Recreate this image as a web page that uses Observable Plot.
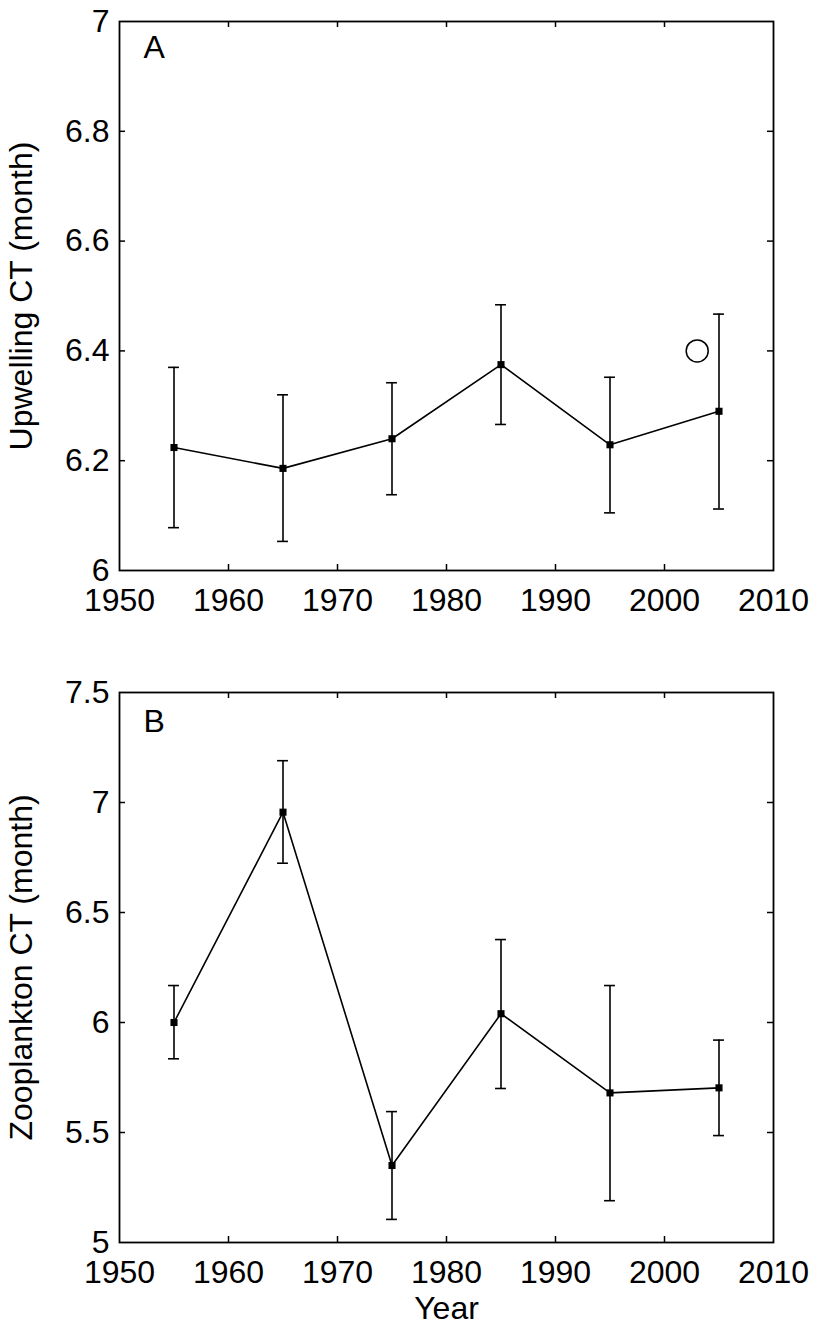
<!DOCTYPE html>
<html><head><meta charset="utf-8">
<script src="https://cdn.jsdelivr.net/npm/d3@7"></script>
<script src="https://cdn.jsdelivr.net/npm/@observablehq/plot@0.6"></script>
<style>body{margin:0;background:#fff} #chart svg{display:block}</style>
</head><body><div id="chart"></div>
<script>
// ---- data ----
const years = [1955, 1965, 1975, 1985, 1995, 2005];
const upwellingMean = [6.224, 6.186, 6.240, 6.375, 6.229, 6.290];
const upwellingLow  = [6.078, 6.053, 6.138, 6.266, 6.105, 6.112];
const upwellingHigh = [6.370, 6.320, 6.342, 6.484, 6.352, 6.467];
const upwellingOpenYear = [2003];
const upwellingOpenValue = [6.40];

const zooMean = [6.000, 6.956, 5.350, 6.040, 5.680, 5.703];
const zooLow  = [5.835, 6.724, 5.105, 5.700, 5.190, 5.486];
const zooHigh = [6.168, 7.190, 5.595, 6.377, 6.168, 5.920];

const xTicks = [1950, 1960, 1970, 1980, 1990, 2000, 2010];
const yTicksA = [6, 6.2, 6.4, 6.6, 6.8, 7];
const yTicksB = [5, 5.5, 6, 6.5, 7, 7.5];

const FONT = "'Liberation Sans', Arial, Helvetica, sans-serif";

function rowsOf(mean, lo, hi) {
  return years.map((year, i) => ({year, value: mean[i], lo: lo[i], hi: hi[i]}));
}

function panel({rows, yDomain, yTicks, yLabel, letter, letterDy, height, marginBottom, extra = []}) {
  const W = 813, ML = 119, MR = 40, MT = 21;
  const fw = W - ML - MR, fh = height - MT - marginBottom;
  const tick = 6;
  const lw = 1.6;
  return Plot.plot({
    width: W, height, marginLeft: ML, marginRight: MR, marginTop: MT, marginBottom,
    style: {fontFamily: FONT, fontSize: "32px", background: "white", color: "black", overflow: "visible"},
    x: {domain: [1950, 2010]},
    y: {domain: yDomain},
    marks: [
      Plot.axisX(xTicks, {tickSize: 0, tickPadding: 18, fontSize: 32, tickFormat: d => String(d), label: null}),
      Plot.axisY(yTicks, {tickSize: 0, tickPadding: 10, fontSize: 32, tickFormat: d => String(d), label: null}),
      // inward ticks on all four sides
      Plot.tickX(xTicks.slice(1, -1), {x: d => d, insetTop: fh - tick, stroke: "black", strokeWidth: 1.5}),
      Plot.tickX(xTicks.slice(1, -1), {x: d => d, insetBottom: fh - tick, stroke: "black", strokeWidth: 1.5}),
      Plot.tickY(yTicks.slice(1, -1), {y: d => d, insetRight: fw - tick, stroke: "black", strokeWidth: 1.5}),
      Plot.tickY(yTicks.slice(1, -1), {y: d => d, insetLeft: fw - tick, stroke: "black", strokeWidth: 1.5}),
      Plot.frame({stroke: "black", strokeWidth: 1.8}),
      // error bars
      Plot.ruleX(rows, {x: "year", y1: "lo", y2: "hi", stroke: "black", strokeWidth: lw}),
      Plot.ruleY(rows, {y: "hi", x1: d => d.year - 0.5, x2: d => d.year + 0.5, stroke: "black", strokeWidth: lw}),
      Plot.ruleY(rows, {y: "lo", x1: d => d.year - 0.5, x2: d => d.year + 0.5, stroke: "black", strokeWidth: lw}),
      Plot.line(rows, {x: "year", y: "value", stroke: "black", strokeWidth: lw}),
      Plot.dot(rows, {x: "year", y: "value", symbol: "square", r: 4, fill: "black", stroke: "none"}),
      ...extra,
      Plot.text([yLabel], {text: d => d, frameAnchor: "left", textAnchor: "middle", rotate: -90, dx: -98, fontSize: 32, fill: "black"}),
      Plot.text([letter], {text: d => d, frameAnchor: "top-left", dx: 24, dy: letterDy, textAnchor: "start", lineAnchor: "top", fontSize: 32, fill: "black"})
    ]
  });
}

const rowsA = rowsOf(upwellingMean, upwellingLow, upwellingHigh);
const rowsB = rowsOf(zooMean, zooLow, zooHigh);
const openA = upwellingOpenYear.map((year, i) => ({year, value: upwellingOpenValue[i]}));

const chartA = panel({
  rows: rowsA, yDomain: [6, 7], yTicks: yTicksA, yLabel: "Upwelling CT (month)",
  letter: "A", letterDy: 14, height: 671, marginBottom: 101,
  extra: [Plot.dot(openA, {x: "year", y: "value", r: 11, stroke: "black", strokeWidth: 1.5, fill: "none"})]
});

const chartB = panel({
  rows: rowsB, yDomain: [5, 7.5], yTicks: yTicksB, yLabel: "Zooplankton CT (month)",
  letter: "B", letterDy: 17, height: 667, marginBottom: 96,
  extra: [Plot.text(["Year"], {text: d => d, frameAnchor: "bottom", dy: 76, fontSize: 32, fill: "black"})]
});

const root = document.getElementById("chart");
root.appendChild(chartA);
root.appendChild(chartB);
</script>
</body></html>
